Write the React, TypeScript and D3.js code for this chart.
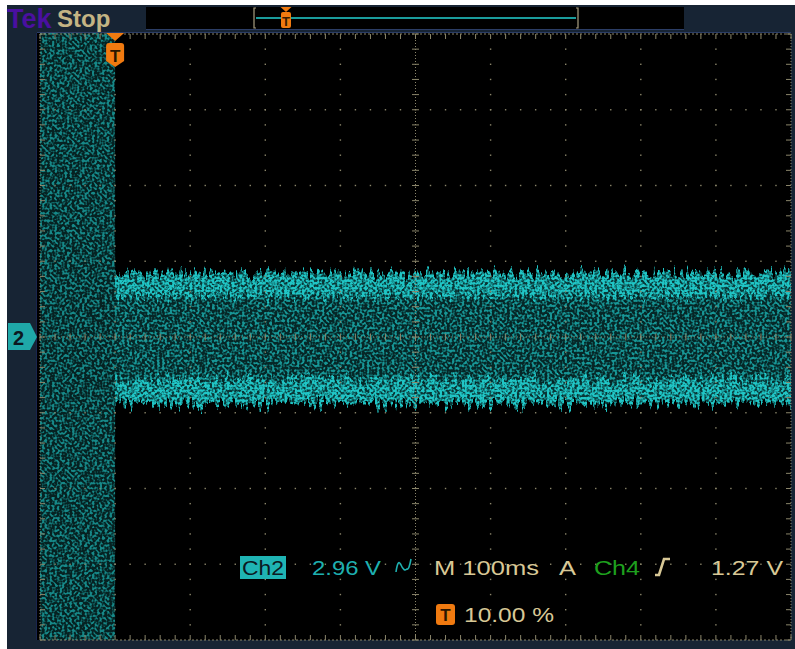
import React from 'react';
import * as d3 from 'd3';

const W = 795;
const H = 649;

// scope settings, read from the readouts
const timePerDiv = 100; // ms  "M 100ms"
const voltsPerDiv = 2.96; // V  "2.96 V"
const timeMajor = [-100, 0, 100, 200, 300, 400, 500, 600, 700, 800, 900]; // ms
const voltMajorDiv = [-4, -3, -2, -1, 0, 1, 2, 3, 4];

// waveform envelope as it shows on screen (ms, V, intensity, dense = bright persistence edge)
const bandName = ['pre-trigger', 'upper edge', 'body', 'lower edge'];
const bandT0 = [-100, 0, 0, 0];
const bandT1 = [0, 900, 900, 900];
const bandVLow = [-13.5, 1.55, -1.62, -2.6];
const bandVHigh = [13.5, 2.52, 1.55, -1.62];
const bandLevel = [0.62, 1, 0.7, 1];
const bandDense = [false, true, false, true];

// readout line
const readout1 = ['2.96 V', 'M 100ms', 'A', 'Ch4', '1.27 V'];
const readout2 = ['10.00 %'];

const BEIGE = '#d8c896';
const TEAL = '#20c6c6';
const GRID = '#8a856a';
const NAVY = '#172434';
const ORANGE = '#f07a10';
const FONT = 'Liberation Sans, Arial, sans-serif';

function Grain({ id, freq, seed }: { id: string; freq: number; seed: number }) {
  return (
    <filter id={id} filterUnits="userSpaceOnUse" x={20} y={10} width={780} height={650}
      colorInterpolationFilters="sRGB">
      <feTurbulence type="fractalNoise" baseFrequency={freq} numOctaves={1} seed={seed} result="grain" />
      <feColorMatrix in="grain" type="matrix"
        values="0 0 0 0 0  0 0 0 0 0  0 0 0 0 0  5 0 0 0 -2.2" result="mask" />
      <feComposite in="SourceGraphic" in2="mask" operator="in" />
      <feGaussianBlur stdDeviation={0.45} />
    </filter>
  );
}

export default function App() {
  const x = d3.scaleLinear().domain([-timePerDiv, 9 * timePerDiv]).range([40, 791]);
  const y = d3.scaleLinear().domain([-4 * voltsPerDiv, 4 * voltsPerDiv]).range([640, 34]);

  const xMinor = d3.range(-100, 900.1, timePerDiv / 5);
  const yMinor = d3.range(-4, 4.01, 0.2).map(d => d * voltsPerDiv);
  const yMajor = voltMajorDiv.map(d => d * voltsPerDiv);
  const xC = x(400);
  const yC = y(0);

  const dots: JSX.Element[] = [];
  timeMajor.slice(1, -1).forEach(t => {
    if (t === 400) return;
    yMinor.slice(1, -1).forEach((v, i) =>
      dots.push(<rect key={`v${t}-${i}`} x={x(t) - 0.7} y={y(v) - 0.7} width={1.4} height={1.4} fill={GRID} />));
  });
  yMajor.slice(1, -1).forEach(v => {
    if (v === 0) return;
    xMinor.slice(1, -1).forEach((t, i) =>
      dots.push(<rect key={`h${v}-${i}`} x={x(t) - 0.7} y={y(v) - 0.7} width={1.4} height={1.4} fill={GRID} />));
  });

  const ticks: JSX.Element[] = [];
  xMinor.forEach((t, i) => {
    ticks.push(<line key={`ct${i}`} x1={x(t)} x2={x(t)} y1={yC - 3.5} y2={yC + 3.5} />);
    ticks.push(<line key={`tt${i}`} x1={x(t)} x2={x(t)} y1={34} y2={39} />);
    ticks.push(<line key={`bt${i}`} x1={x(t)} x2={x(t)} y1={635} y2={640} />);
  });
  yMinor.forEach((v, i) => {
    ticks.push(<line key={`cv${i}`} x1={xC - 3.5} x2={xC + 3.5} y1={y(v)} y2={y(v)} />);
    ticks.push(<line key={`lv${i}`} x1={40} x2={45} y1={y(v)} y2={y(v)} />);
    ticks.push(<line key={`rv${i}`} x1={786} x2={791} y1={y(v)} y2={y(v)} />);
  });

  const band = (i: number, k = 1) => (
    <rect key={bandName[i]} x={x(bandT0[i])} y={y(bandVHigh[i])} width={x(bandT1[i]) - x(bandT0[i])}
      height={y(bandVLow[i]) - y(bandVHigh[i])} fill={TEAL} fillOpacity={bandLevel[i] * k} />
  );

  const txt = { fontFamily: FONT, fontSize: 20 };

  return (
    <svg width={W} height={H} style={{ position: 'absolute', left: 0, top: 0 }}>
      <defs>
        <clipPath id="screen">
          <rect x={37} y={33} width={754} height={607} />
        </clipPath>
        <filter id="warp" filterUnits="userSpaceOnUse" x={20} y={10} width={780} height={650}
          colorInterpolationFilters="sRGB">
          <feTurbulence type="fractalNoise" baseFrequency="0.3 0.03" numOctaves={2} seed={5} result="w" />
          <feColorMatrix in="w" type="matrix"
            values="0 0 0 0 0.5  0 1 0 0 0  0 0 0 0 0  0 0 0 0 1" result="wy" />
          <feDisplacementMap in="SourceGraphic" in2="wy" scale={30}
            xChannelSelector="R" yChannelSelector="G" />
        </filter>
        <Grain id="grainA" freq={0.4} seed={3} />
        <Grain id="grainB" freq={0.4} seed={11} />
      </defs>

      {/* frame */}
      <rect x={7} y={5} width={W - 7} height={H - 5} fill={NAVY} />
      <rect x={37} y={33} width={754} height={607} fill="#000" />
      <line x1={37} x2={791} y1={32.5} y2={32.5} stroke="#2b3d66" />
      <line x1={36.5} x2={36.5} y1={33} y2={640} stroke="#1a2550" />

      {/* top status bar */}
      <text x={7} y={28} fontFamily={FONT} fontWeight="bold" fontSize={27} fill="#4a10a0">Tek</text>
      <text x={57} y={27} fontFamily={FONT} fontWeight="bold" fontSize={24} fill="#c4b484">Stop</text>
      <rect x={146} y={7} width={538} height={22} fill="#000" />
      <line x1={146} x2={684} y1={29.5} y2={29.5} stroke="#2b3d66" />
      <path d="M256,8 H254 V28 H256 M576,8 H578 V28 H576" fill="none" stroke="#a89e80" strokeWidth={1.2} />
      <line x1={256} x2={576} y1={18} y2={18} stroke="#1a9c9c" strokeWidth={2} />
      <path d="M280.5,7 h11 l-5.5,5 z" fill={ORANGE} />
      <rect x={281} y={12} width={10} height={16} rx={2} fill={ORANGE} />
      <text x={286} y={26} textAnchor="middle" fontFamily={FONT} fontWeight="bold" fontSize={13}
        fill="#3a1c00">T</text>

      {/* waveform: haze, then persistence grain over a fuzzy envelope */}
      <g clipPath="url(#screen)">
        <g filter="url(#warp)">{bandName.map((_, i) => band(i, 0.28))}</g>
        <g filter="url(#grainA)">
          <g filter="url(#warp)">{bandName.map((_, i) => band(i))}</g>
        </g>
        <g filter="url(#grainB)">
          <g filter="url(#warp)">{bandName.map((_, i) => (bandDense[i] ? band(i) : null))}</g>
        </g>
      </g>

      {/* graticule */}
      {dots}
      <g stroke={GRID} strokeWidth={1}>
        <line x1={xC} x2={xC} y1={34} y2={640} strokeDasharray="1 2" />
        <line x1={40} x2={791} y1={yC} y2={yC} strokeDasharray="1 2" />
        <line x1={40} x2={791} y1={34} y2={34} strokeDasharray="2 2" />
        <line x1={40} x2={791} y1={640} y2={640} strokeDasharray="2 2" />
        <line x1={40} x2={40} y1={34} y2={640} strokeDasharray="1 2" />
        <line x1={791} x2={791} y1={34} y2={640} strokeDasharray="1 2" />
        {ticks}
      </g>

      {/* trigger position marker */}
      <path d={`M${x(0) - 9},33 h18 l-9,8 z`} fill={ORANGE} />
      <path d={`M${x(0) - 9},46 q0,-3 3,-3 h12 q3,0 3,3 v15 l-9,6 l-9,-6 z`} fill={ORANGE} />
      <text x={x(0)} y={62} textAnchor="middle" fontFamily={FONT} fontWeight="bold" fontSize={17}
        fill="#2a1600">T</text>

      {/* channel 2 ground marker */}
      <path d={`M8,${yC - 14} H30 L37,${yC} L30,${yC + 13} H8 Z`} fill="#1fa8a8" />
      <text x={13} y={yC + 8} fontFamily={FONT} fontWeight="bold" fontSize={20} fill="#0c1820">2</text>

      {/* readouts */}
      <rect x={240} y={556} width={46} height={23} fill="#1fb4b4" />
      <text x={242} y={575} {...txt} textLength={42} lengthAdjust="spacingAndGlyphs" fill="#0c1a22">Ch2</text>
      <text x={312} y={575} {...txt} textLength={69} lengthAdjust="spacingAndGlyphs" fill="#1eb0b0">{readout1[0]}</text>
      <path d="M396,572 q2,-14 5,-7 t6,4 q2,1 4,-10" fill="none" stroke="#1eb0b0" strokeWidth={1.6} />
      <text x={434} y={575} {...txt} textLength={105} lengthAdjust="spacingAndGlyphs" fill={BEIGE}>{readout1[1]}</text>
      <text x={559} y={575} {...txt} textLength={17} lengthAdjust="spacingAndGlyphs" fill={BEIGE}>{readout1[2]}</text>
      <text x={594} y={575} {...txt} textLength={46} lengthAdjust="spacingAndGlyphs" fill="#1ea01e">{readout1[3]}</text>
      <path d="M655,575 H659 L664,559 H670" fill="none" stroke={BEIGE} strokeWidth={2.6} />
      <text x={711} y={575} {...txt} textLength={72} lengthAdjust="spacingAndGlyphs" fill={BEIGE}>{readout1[4]}</text>

      <rect x={436} y={604} width={19} height={21} rx={3} fill={ORANGE} />
      <text x={445.5} y={621} textAnchor="middle" fontFamily={FONT} fontWeight="bold" fontSize={17}
        fill="#2a1600">T</text>
      <text x={464} y={622} {...txt} textLength={90} lengthAdjust="spacingAndGlyphs" fill={BEIGE}>{readout2[0]}</text>
    </svg>
  );
}
